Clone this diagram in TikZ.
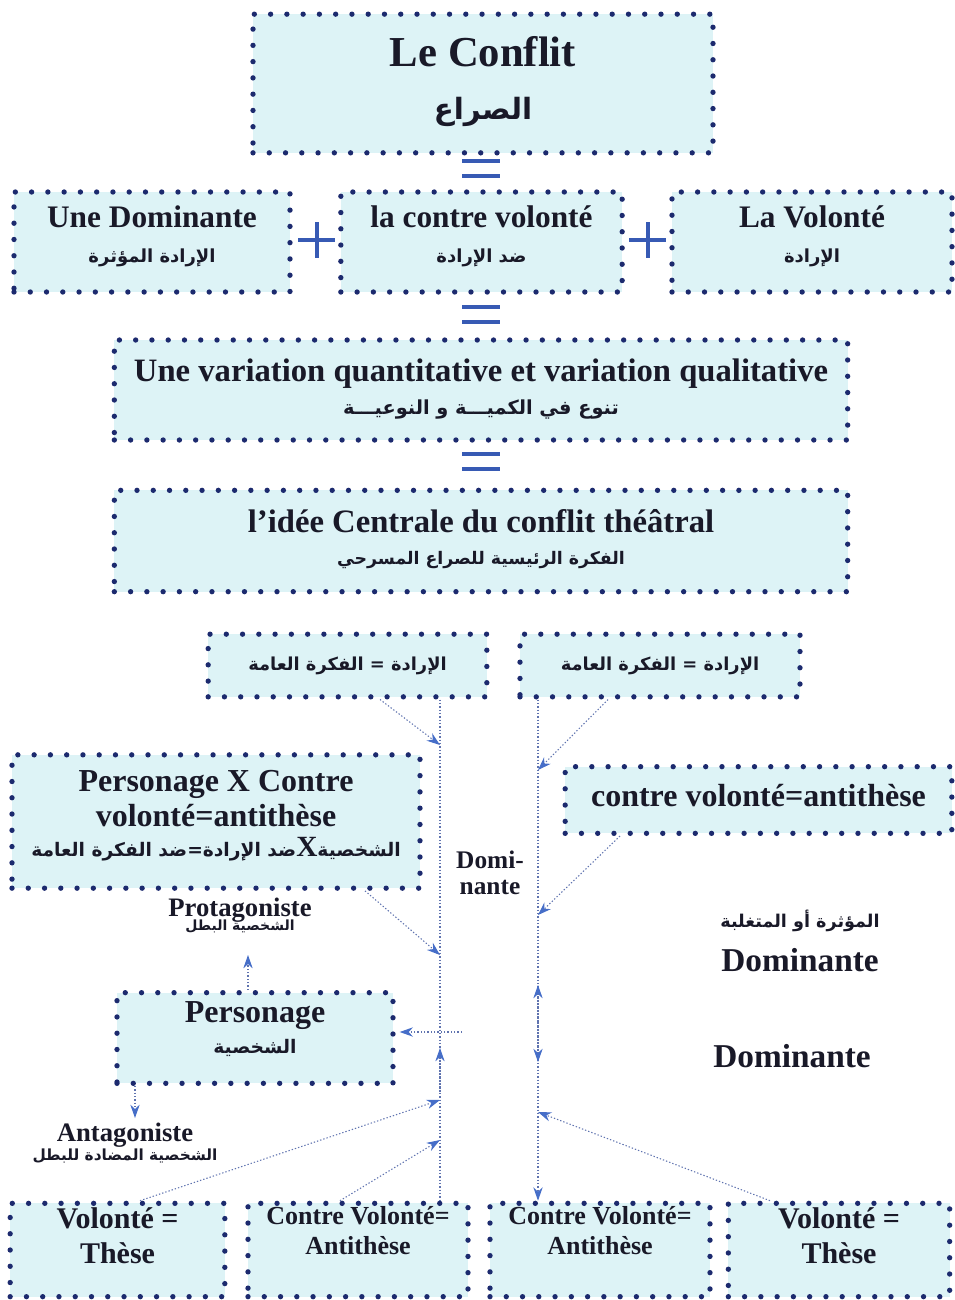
\documentclass[tikz,border=0pt]{standalone}
\usepackage{fontspec}
\setmainfont{Liberation Serif}
\newfontfamily\arabicfont[Script=Arabic]{DejaVu Sans Bold}
\TeXXeTstate=1
\usetikzlibrary{arrows.meta}
\definecolor{boxfill}{RGB}{221,243,246}
\definecolor{dotc}{RGB}{28,42,110}
\definecolor{arrc}{RGB}{70,110,200}
\definecolor{linec}{RGB}{95,115,175}
\definecolor{symc}{RGB}{55,90,180}
\definecolor{txt}{RGB}{25,25,40}
\newcommand\arf[1]{\arabicfont\fontsize{#1}{#1}\selectfont}
\newcommand\lat[2]{{\bfseries\fontsize{#1}{#1}\selectfont #2}}
\newcommand\bsk[1]{\fontsize{10}{#1}\selectfont\lineskiplimit=-100pt\relax}
\tikzset{
  box/.style={draw=dotc, fill=boxfill, line width=4pt, dash pattern=on 0pt off 12.2pt,
    line cap=round, align=center, inner sep=0pt, text=txt, text depth=0pt},
  lbl/.style={align=center, inner sep=0pt, text=txt, anchor=base},
  conn/.style={draw=linec, line width=0.8pt, dash pattern=on 1pt off 1.5pt},
  arr/.style={conn, -{Stealth[length=10pt,width=7pt,color=arrc,fill=arrc]}},
  symline/.style={draw=symc, line width=3pt}
}
\begin{document}
\begin{tikzpicture}[x=0.75pt,y=-0.75pt]
\useasboundingbox (0,0) rectangle (955,1300);
% boxes (text height places the last baseline below the centre)
\node[box, minimum width=345pt, minimum height=104pt, font=\bsk{39.75}, text height=53.25pt] (conflit) at (483,83.5)
  {\lat{32}{Le Conflit}\\{\arf{22}\beginR الصراع\endR}};
\node[box, minimum width=207pt, minimum height=75pt, font=\bsk{25.75}, text height=30.25pt] (dom) at (152,242)
  {\lat{23.5}{Une Dominante}\\{\arf{13.5}\beginR الإرادة المؤثرة\endR}};
\node[box, minimum width=211pt, minimum height=75pt, font=\bsk{25.75}, text height=30.25pt] (contre) at (481.5,242)
  {\lat{23.5}{la contre volonté}\\{\arf{13.5}\beginR ضد الإرادة\endR}};
\node[box, minimum width=210pt, minimum height=75pt, font=\bsk{25.75}, text height=30.25pt] (vol) at (812,242)
  {\lat{23.5}{La Volonté}\\{\arf{13.5}\beginR الإرادة\endR}};
\node[box, minimum width=550pt, minimum height=75pt, font=\bsk{24.75}, text height=36pt] (var) at (481,390)
  {\lat{24.5}{Une variation quantitative et variation qualitative}\\{\arf{14.5}\beginR تنوع في الكميـــة و النوعيـــة\endR}};
\node[box, minimum width=550pt, minimum height=76pt, font=\bsk{24}, text height=34.5pt] (idee) at (481,541)
  {\lat{24.5}{l’idée Centrale du conflit théâtral}\\{\arf{13}\beginR الفكرة الرئيسية للصراع المسرحي\endR}};
\node[box, minimum width=209pt, minimum height=47pt, text height=6.75pt] (smallL) at (347.5,665.5)
  {{\arf{13.4}\beginR الإرادة = الفكرة العامة\endR}};
\node[box, minimum width=210pt, minimum height=47pt, text height=6.75pt] (smallR) at (660,665.5)
  {{\arf{13.4}\beginR الإرادة = الفكرة العامة\endR}};
\node[box, minimum width=306pt, minimum height=100pt, font=\bsk{26.25}, text height=51.75pt] (persX) at (216,821.5)
  {\lat{24}{Personage X Contre}\\\lat{24}{volonté=antithèse}\\[-4.25pt]{\arf{14}\beginR الشخصية{\rmfamily\bfseries\fontsize{22}{22}\selectfont X}ضد الإرادة=ضد الفكرة العامة\endR}};
\node[box, minimum width=290pt, minimum height=50pt, text height=9pt] (cva) at (758.5,800)
  {\lat{24}{contre volonté=antithèse}};
\node[box, minimum width=207pt, minimum height=68pt, font=\bsk{23.25}, text height=22.5pt] (pers) at (255,1038)
  {\lat{24}{Personage}\\{\arf{14}\beginR الشخصية\endR}};
\node[box, minimum width=161pt, minimum height=70pt, font=\bsk{26}, text height=19.5pt] (b1) at (117.5,1250)
  {\lat{22.5}{Volonté =}\\\lat{22.5}{Thèse}};
\node[box, minimum width=165pt, minimum height=70pt, font=\bsk{22.5}, text height=7pt] (b2) at (358,1250)
  {\lat{19.5}{Contre Volonté=}\\\lat{19.5}{Antithèse}};
\node[box, minimum width=165pt, minimum height=70pt, font=\bsk{22.5}, text height=7pt] (b3) at (600,1250)
  {\lat{19.5}{Contre Volonté=}\\\lat{19.5}{Antithèse}};
\node[box, minimum width=166pt, minimum height=70pt, font=\bsk{26}, text height=19.5pt] (b4) at (839,1250)
  {\lat{22.5}{Volonté =}\\\lat{22.5}{Thèse}};
% free labels (anchored at the baseline of their last line)
\node[lbl, font=\bsk{19.5}] (domi) at (490,894) {\lat{19}{Domi-}\\\lat{19}{nante}};
\node[lbl, font=\bsk{10.5}] (prot) at (240,930) {\lat{20}{Protagoniste}\\{\arf{10.5}\beginR الشخصية البطل\endR}};
\node[lbl, font=\bsk{14}] (antag) at (125,1160) {\lat{20}{Antagoniste}\\{\arf{11.5}\beginR الشخصية المضادة للبطل\endR}};
\node[lbl, font=\bsk{33}] (rt1) at (800,971) {{\arf{13.2}\beginR المؤثرة أو المتغلبة\endR}\\\lat{25}{Dominante}};
\node[lbl] (rt2) at (792,1067) {\lat{25}{Dominante}};
% symbols
\draw[symline] (462,161) -- (500,161) (462,176) -- (500,176);
\draw[symline] (462,307) -- (500,307) (462,322) -- (500,322);
\draw[symline] (462,454) -- (500,454) (462,469) -- (500,469);
\draw[symline] (298,240) -- (335,240) (316.5,222) -- (316.5,258);
\draw[symline] (629,240) -- (666,240) (647.5,222) -- (647.5,258);
% connector coordinates
\coordinate (lx) at (440,0);
\coordinate (rx) at (538,0);
\coordinate (l1) at (440,745);
\coordinate (l2) at (440,955);
\coordinate (l3) at (440,1048);
\coordinate (l3s) at (440,1092);
\coordinate (l4) at (440,1100);
\coordinate (l5) at (440,1140);
\coordinate (lp) at (462,1032);
\coordinate (r1) at (538,770);
\coordinate (r2) at (538,915);
\coordinate (r3s) at (538,1022);
\coordinate (r3a) at (538,985);
\coordinate (r3b) at (538,1062);
\coordinate (r4) at (538,1112);
\coordinate (c1) at (380,0);
\coordinate (c2) at (608,0);
\coordinate (c3) at (620,0);
\coordinate (c4) at (365,0);
\coordinate (c5) at (135,0);
\coordinate (c6) at (140,0);
\coordinate (c7) at (340,0);
\coordinate (c8) at (770,0);
\coordinate (cp) at (248,0);
\coordinate (pt) at (248,955);
\coordinate (at) at (135,1118);
% vertical lines
\draw[conn] (smallL.south -| lx) -- (b2.north -| lx);
\draw[arr] (smallR.south -| rx) -- (b3.north -| rx);
\draw[arr] (l3s) -- (l3);
\draw[arr] (r3s) -- (r3a);
\draw[arr] (r3s) -- (r3b);
% diagonal arrows
\draw[arr] (smallL.south -| c1) -- (l1);
\draw[arr] (smallR.south -| c2) -- (r1);
\draw[arr] (cva.south -| c3) -- (r2);
\draw[arr] (persX.south -| c4) -- (l2);
\draw[arr] (lp) -- ([xshift=3pt]pers.east |- lp);
\draw[arr] (pers.north -| cp) -- (pt);
\draw[arr] (pers.south -| c5) -- (at);
\draw[arr] (b1.north -| c6) -- (l4);
\draw[arr] (b2.north -| c7) -- (l5);
\draw[arr] (b4.north -| c8) -- (r4);
\end{tikzpicture}
\end{document}
